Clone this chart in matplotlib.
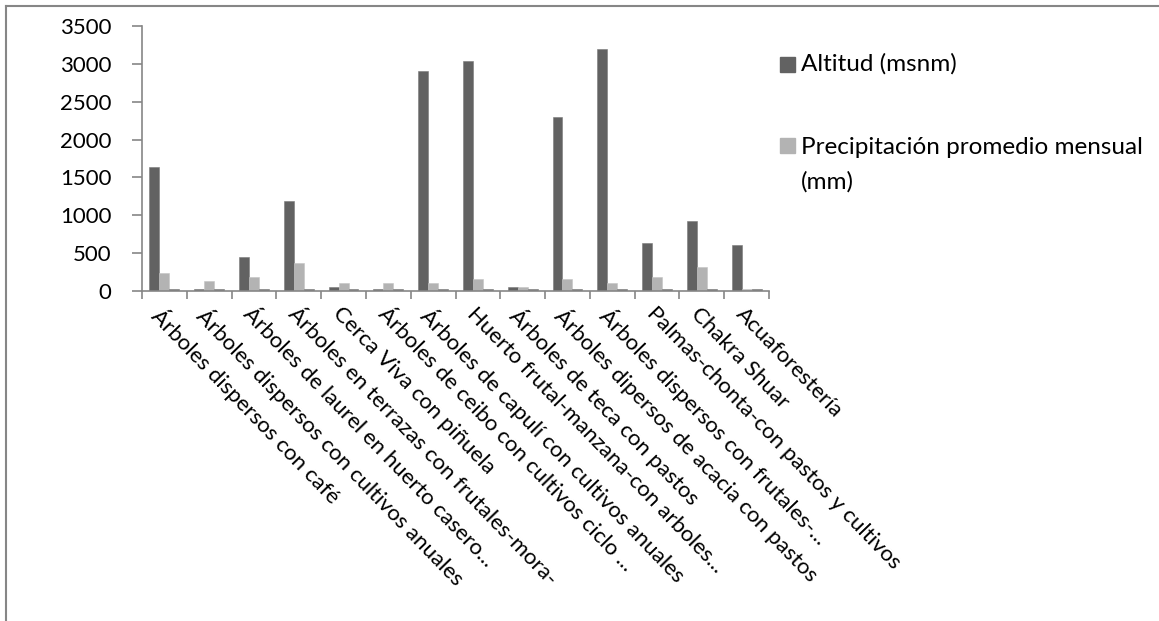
import matplotlib
matplotlib.use("Agg")
import matplotlib.pyplot as plt
from matplotlib.patches import Rectangle
from matplotlib.lines import Line2D
import numpy as np

plt.rcParams['font.family'] = ['Lato', 'DejaVu Sans']

categories = [
    "Árboles dispersos con café",
    "Árboles dispersos con cultivos anuales",
    "Árboles de laurel en huerto casero...",
    "Árboles en terrazas con frutales-mora-",
    "Cerca Viva con piñuela",
    "Árboles de ceibo con cultivos ciclo ...",
    "Árboles de capulí con cultivos anuales",
    "Huerto frutal-manzana-con arboles...",
    "Árboles de teca con pastos",
    "Árboles dipersos de acacia con pastos",
    "Árboles dispersos con frutales-...",
    "Palmas-chonta-con pastos y cultivos",
    "Chakra Shuar",
    "Acuaforestería",
]
altitud = [1640, 25, 450, 1190, 50, 25, 2900, 3040, 50, 2300, 3200, 630, 920, 605]
precipitacion = [240, 130, 180, 370, 100, 100, 100, 160, 50, 160, 100, 190, 315, 20]
tercera = [25, 25, 25, 25, 25, 25, 25, 25, 25, 25, 25, 25, 25, 25]
series_names = ["Altitud (msnm)", "Precipitación promedio mensual\n(mm)"]
yticks = [0, 500, 1000, 1500, 2000, 2500, 3000, 3500]

dark = "#626262"
light = "#b3b3b3"
third = "#6e6e6e"
axis_gray = "#868686"
fs = 16

W, H = 1159, 621
fig = plt.figure(figsize=(W / 100, H / 100), dpi=100)
ax = fig.add_axes([142 / W, 1 - 291 / H, (769 - 142) / W, (291 - 26) / H])

x = np.arange(len(categories))
bw = 1 / 4.5
ax.bar(x - bw, altitud, bw, color=dark, edgecolor="#7a7a7a", linewidth=0.4)
ax.bar(x, precipitacion, bw, color=light, edgecolor="#c4c4c4", linewidth=0.4)
ax.bar(x + bw, tercera, bw, color=third, edgecolor="#7a7a7a", linewidth=0.4)

ax.set_xlim(-0.5, len(categories) - 0.5)
ax.set_ylim(0, 3500)
ax.set_yticks(yticks)
ax.set_yticklabels([str(v) for v in yticks], fontsize=fs)

# category boundary ticks
ax.set_xticks(np.arange(len(categories) + 1) - 0.5)
ax.set_xticklabels([])
ax.set_xticks(x, minor=True)
ax.set_xticklabels(categories, minor=True, rotation=-46, ha="left", va="top",
                   rotation_mode="anchor", fontsize=fs)
ax.tick_params(axis="x", which="minor", length=0, pad=9)
ax.tick_params(axis="x", which="major", length=6, width=1.2, color=axis_gray)
ax.tick_params(axis="y", length=7, width=1.2, color=axis_gray, pad=15)

for s in ["top", "right"]:
    ax.spines[s].set_visible(False)
for s in ["left", "bottom"]:
    ax.spines[s].set_color(axis_gray)
    ax.spines[s].set_linewidth(1.2)

# legend
lfs = 17.5
fig.patches.append(Rectangle((780 / W, 1 - 72 / H), 15 / W, 15 / H,
                             transform=fig.transFigure, color=dark))
fig.text(801 / W, 1 - 64 / H, series_names[0], fontsize=lfs, va="center", ha="left")
fig.patches.append(Rectangle((780 / W, 1 - 153 / H), 15 / W, 15 / H,
                             transform=fig.transFigure, color=light))
fig.text(801 / W, 1 - 137 / H, series_names[1], fontsize=lfs, va="top", ha="left",
         linespacing=1.75)

# outer chart border
fig.add_artist(Line2D([6 / W, 6 / W], [0, 1 - 6 / H], color=axis_gray, lw=1.5,
                      transform=fig.transFigure))
fig.add_artist(Line2D([6 / W, 1], [1 - 6 / H, 1 - 6 / H], color=axis_gray, lw=1.5,
                      transform=fig.transFigure))

fig.savefig("out.png", dpi=100)
